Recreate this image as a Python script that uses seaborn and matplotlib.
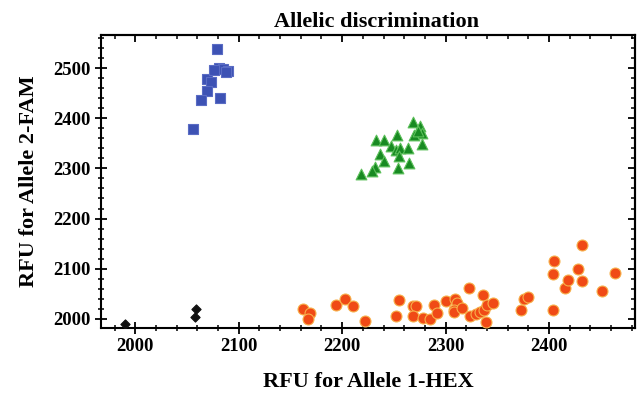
import pandas as pd
import matplotlib.pyplot as plt
import seaborn as sns

# genotype clusters (RFU HEX, RFU FAM)
fam_x = [2079, 2081, 2085, 2090, 2069, 2073, 2069, 2064, 2082, 2056, 2076, 2088]
fam_y = [2538, 2500, 2498, 2495, 2478, 2473, 2455, 2437, 2440, 2378, 2497, 2493]

het_x = [2268, 2275, 2277, 2269, 2273, 2233, 2240, 2253, 2277, 2247, 2252,
         2256, 2264, 2255, 2237, 2240, 2265, 2254, 2232, 2229, 2218]
het_y = [2393, 2385, 2370, 2367, 2375, 2357, 2357, 2367, 2349, 2344, 2337,
         2340, 2340, 2325, 2328, 2314, 2310, 2300, 2302, 2294, 2289]

hex_x = [2162, 2169, 2167, 2194, 2203, 2210, 2222, 2255, 2252, 2268, 2271,
         2268, 2278, 2285, 2289, 2292, 2300, 2309, 2311, 2308, 2308, 2316,
         2323, 2324, 2329, 2333, 2336, 2337, 2339, 2340, 2346, 2373, 2376,
         2380, 2404, 2404, 2405, 2415, 2418, 2428, 2432, 2451, 2464, 2432]
hex_y = [2019, 2011, 2000, 2028, 2040, 2026, 1996, 2037, 2005, 2026, 2025,
         2005, 2001, 2000, 2028, 2011, 2036, 2039, 2031, 2018, 2013, 2021,
         2062, 2005, 2009, 2013, 2048, 2018, 1993, 2027, 2031, 2018, 2039,
         2043, 2018, 2090, 2116, 2061, 2078, 2099, 2076, 2056, 2091, 2147]

ntc_x = [1990, 2059, 2058]
ntc_y = [1990, 2020, 2004]

x_ticks = [2000, 2100, 2200, 2300, 2400]
y_ticks = [2000, 2100, 2200, 2300, 2400, 2500]

groups = ['FAM', 'HET', 'HEX', 'NTC']
colors = {'FAM': '#3d52b4', 'HET': '#188a22', 'HEX': '#f04a16', 'NTC': '#111111'}
edges = {'FAM': '#5a6cc4', 'HET': '#5cc05a', 'HEX': '#f7b04a', 'NTC': '#111111'}
markers = {'FAM': 's', 'HET': '^', 'HEX': 'o', 'NTC': 'D'}
sizes = {'FAM': 60, 'HET': 60, 'HEX': 62, 'NTC': 22}

df = pd.concat([
    pd.DataFrame({'hex': fam_x, 'fam': fam_y, 'call': 'FAM'}),
    pd.DataFrame({'hex': het_x, 'fam': het_y, 'call': 'HET'}),
    pd.DataFrame({'hex': hex_x, 'fam': hex_y, 'call': 'HEX'}),
    pd.DataFrame({'hex': ntc_x, 'fam': ntc_y, 'call': 'NTC'}),
])

sns.set_style('ticks')
plt.rcParams['font.family'] = ['Liberation Serif', 'DejaVu Serif']
plt.rcParams['font.weight'] = 'bold'
plt.rcParams['text.color'] = 'black'
plt.rcParams['axes.labelcolor'] = 'black'
plt.rcParams['xtick.color'] = 'black'
plt.rcParams['ytick.color'] = 'black'

fig = plt.figure(figsize=(6.44, 3.97), dpi=100)
ax = fig.add_axes([0.157, 0.174, 0.829, 0.738])

for g in groups:
    sns.scatterplot(
        data=df[df['call'] == g], x='hex', y='fam', ax=ax,
        color=colors[g], marker=markers[g], s=sizes[g],
        edgecolor=edges[g], linewidth=0.8, legend=False, zorder=3,
    )

ax.set_xlim(1967, 2483)
ax.set_ylim(1982, 2566)
ax.set_xticks(x_ticks)
ax.set_yticks(y_ticks)
ax.set_xticks(range(1980, 2481, 20), minor=True)
ax.set_yticks(range(2000, 2561, 20), minor=True)

for sp in ax.spines.values():
    sp.set_color('black')
    sp.set_linewidth(1.5)

ax.tick_params(which='major', direction='inout', length=8, width=1.3,
               labelsize=13.5, colors='black')
ax.tick_params(which='minor', direction='inout', length=5, width=1.1)
for lab in ax.get_xticklabels() + ax.get_yticklabels():
    lab.set_fontweight('bold')

# inward ticks on the top and right frame
top = ax.secondary_xaxis('top')
top.set_xticks(x_ticks)
top.set_xticks(range(1980, 2481, 20), minor=True)
top.tick_params(which='major', direction='in', length=5, width=1.3, labeltop=False)
top.tick_params(which='minor', direction='in', length=3, width=1.1)
top.spines['top'].set_linewidth(1.5)
top.spines['top'].set_color('black')

right = ax.secondary_yaxis('right')
right.set_yticks(y_ticks)
right.set_yticks(range(2000, 2561, 20), minor=True)
right.tick_params(which='major', direction='in', length=5, width=1.3, labelright=False)
right.tick_params(which='minor', direction='in', length=3, width=1.1)
right.spines['right'].set_linewidth(1.5)
right.spines['right'].set_color('black')

ax.set_xlabel('RFU for Allele 1-HEX', fontsize=16, fontweight='bold', labelpad=12)
ax.set_ylabel('RFU for Allele 2-FAM', fontsize=16, fontweight='bold', labelpad=10)
ax.set_title('Allelic discrimination', fontsize=16, fontweight='bold', pad=6, x=0.515)

fig.savefig('out.png', dpi=100)
